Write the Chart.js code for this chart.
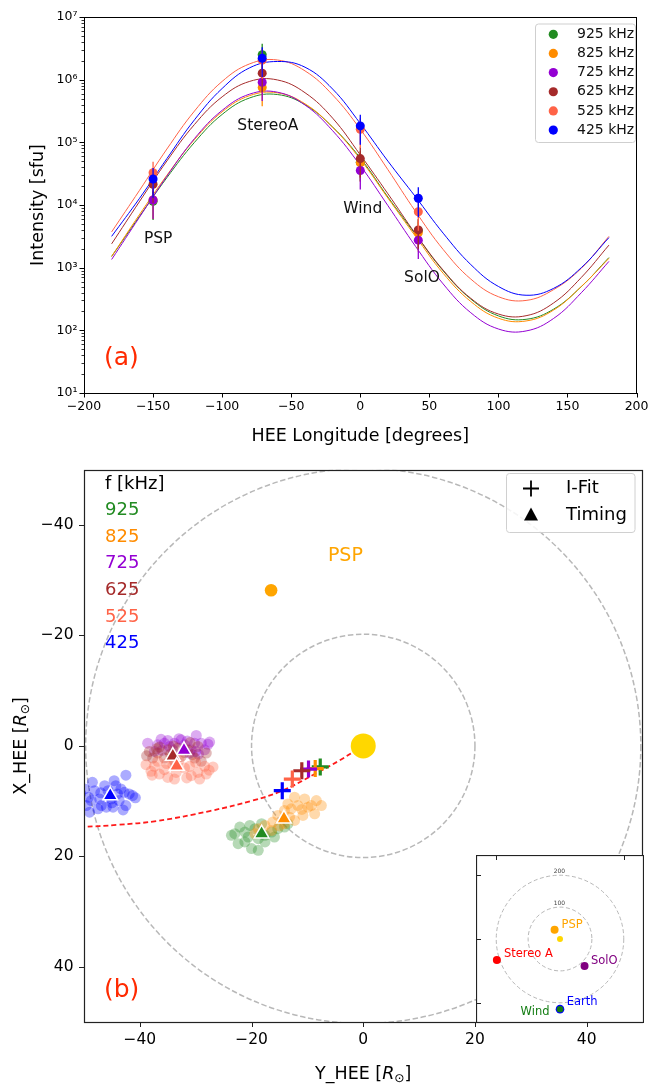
<!DOCTYPE html>
<html><head><meta charset="utf-8">
<script src="https://cdn.jsdelivr.net/npm/chart.js@4.4.0/dist/chart.umd.min.js"></script>
<style>
html,body{margin:0;padding:0;background:#fff;}
#wrap{position:relative;width:655px;height:1086px;overflow:hidden;}
canvas{position:absolute;display:block;}
#c1{left:0;top:0;width:655px;height:450px;}
#c2{left:0;top:450px;width:655px;height:636px;}
#c3{left:476px;top:855px;width:168px;height:168px;}
</style></head><body>
<div id="wrap">
<canvas id="c1" width="655" height="450"></canvas>
<canvas id="c2" width="655" height="636"></canvas>
<canvas id="c3" width="168" height="168"></canvas>
</div>
<script>
// ---------------- DATA: panel (a) ----------------
const freqLabels = ['925 kHz','825 kHz','725 kHz','625 kHz','525 kHz','425 kHz'];
const freqShort = ['925','825','725','625','525','425'];
const colors = ['#228B22','#FF8C00','#9400D3','#A52A2A','#FF6347','#0000FF'];
const spacecraftLon = [-150, -71, 0, 42];
const spacecraftNames = ['PSP','StereoA','Wind','SolO'];
const labelLon = [-146.3, -66.9, 1.8, 44.7];
const labelInt = [2.87e3, 1.83e5, 8.7e3, 689];
const int925 = [1.15e4, 2.5e6, 4.8e4, 3.9e3];
const int825 = [1.2e4, 7.5e5, 4.7e4, 3.6e3];
const int725 = [1.2e4, 9.1e5, 3.55e4, 2.75e3];
const int625 = [2.14e4, 1.27e6, 5.5e4, 4.0e3];
const int525 = [3.28e4, 2.05e6, 1.62e5, 7.8e3];
const int425 = [2.6e4, 2.2e6, 1.83e5, 1.28e4];
const errFrac = 0.5;
const fitLon = [-180,-160,-140,-120,-100,-80,-60,-40,-20,0,20,40,60,80,100,120,140,160,180];
const fit925 = [1.51e3,6.5e3,2.73e4,1.0e5,2.79e5,5.12e5,5.79e5,3.99e5,1.75e5,5.62e4,1.34e4,3.39e3,891,316,170,150,218,498,1.45e3];
const fit825 = [1.51e3,6.95e3,2.98e4,1.11e5,3.07e5,5.57e5,6.17e5,4.12e5,1.74e5,5.37e4,1.29e4,3.16e3,813,288,156,141,211,500,1.41e3];
const fit725 = [1.35e3,6.31e3,2.88e4,1.15e5,3.24e5,5.89e5,6.31e5,3.94e5,1.53e5,4.27e4,9.77e3,2.19e3,550,191,105,97.7,155,398,1.26e3];
const fit625 = [2.4e3,1.12e4,5.04e4,1.93e5,5.32e5,9.4e5,9.9e5,6.19e5,2.43e5,6.31e4,1.51e4,3.47e3,912,324,182,171,274,698,2.29e3];
const fit525 = [3.72e3,1.69e4,7.82e4,3.16e5,9.38e5,1.79e6,2.06e6,1.38e6,5.7e5,1.62e5,3.66e4,7.89e3,1.95e3,658,344,300,447,977,3.16e3];
const fit425 = [3.16e3,1.26e4,5.5e4,2.29e5,7.24e5,1.55e6,1.95e6,1.58e6,7.08e5,2.0e5,5.01e4,1.35e4,3.55e3,1.12e3,501,363,468,1000,3.02e3];
const xTicksA = [-200,-150,-100,-50,0,50,100,150,200];
const yTicksA = [10,100,1e3,1e4,1e5,1e6,1e7];

// ---------------- DATA: panel (b) ----------------
const axisTicksB = [-40,-20,0,20,40];
const circleRadiiB = [20, 49.7];
const spiralY = [-1.0,-4.2,-8.5,-14.5,-19.8,-27.5,-37.0,-44.0,-50.5];
const spiralX = [0.6,2.6,5.0,8.1,9.9,11.8,13.6,14.3,14.7];
const cloud925 = [[-23.0,15.9],[-22.1,14.7],[-21.2,15.6],[-20.3,14.4],[-19.4,15.0],[-18.8,16.8],[-17.6,16.2],[-16.4,15.6],[-15.3,15.0],[-14.1,14.7],[-21.2,17.4],[-22.4,17.7],[-20.0,18.6],[-18.8,18.9],[-17.6,17.4],[-15.9,16.5],[-23.6,16.2],[-13.5,14.1],[-20.6,16.5],[-18.2,14.1]];
const cloud825 = [[-12.3,9.3],[-10.5,9.6],[-8.4,9.9],[-7.5,10.8],[-8.7,12.3],[-11.7,10.8],[-12.9,11.4],[-14.1,11.7],[-9.9,11.1],[-10.8,12.6],[-13.2,12.9],[-15.3,12.6],[-16.2,13.8],[-17.6,14.4],[-18.8,15.0],[-14.1,14.1],[-12.3,13.5],[-16.4,15.3],[-19.4,15.9],[-9.3,10.8],[-11.0,11.5],[-13.5,10.5],[-15.0,14.5]];
const cloud725 = [[-38.6,-0.5],[-36.8,-0.2],[-35.6,-0.5],[-33.8,-0.5],[-32.0,-0.2],[-29.9,-1.9],[-29.0,-0.5],[-27.5,-0.7],[-28.4,0.7],[-30.8,0.7],[-34.1,0.7],[-37.4,1.0],[-32.6,-1.1],[-30.2,-0.5],[-31.1,1.3],[-34.7,0.1],[-36.0,0.8],[-29.5,1.5],[-33.0,-1.3],[-35.0,-1.0],[-27.8,-0.3],[-31.5,-0.9],[-36.2,-1.2],[-30.0,1.0]];
const cloud625 = [[-38.3,1.0],[-36.8,1.3],[-35.0,0.7],[-33.2,0.4],[-31.4,0.7],[-29.6,0.1],[-28.1,1.3],[-30.2,2.2],[-32.6,1.9],[-35.6,2.2],[-37.7,2.2],[-33.8,2.8],[-29.0,2.8],[-36.5,0.2],[-31.0,-0.6],[-34.5,1.5],[-37.0,0.5],[-32.0,1.2],[-34.0,0.0],[-30.6,1.6],[-38.8,1.8]];
const cloud525 = [[-38.9,3.4],[-37.4,3.7],[-35.6,4.3],[-35.0,5.7],[-33.5,4.8],[-32.0,4.0],[-30.8,5.4],[-29.6,4.8],[-28.1,5.1],[-26.9,3.8],[-36.5,5.1],[-34.1,3.4],[-31.1,3.7],[-28.4,3.7],[-36.8,2.8],[-33.0,2.6],[-30.0,3.0],[-38.0,4.6],[-33.8,6.0],[-31.6,5.8],[-37.8,5.3],[-29.3,6.0],[-35.2,3.2],[-27.6,4.4]];
const cloud425 = [[-49.9,7.8],[-49.2,9.3],[-49.6,10.8],[-48.1,8.1],[-47.2,9.6],[-46.3,7.2],[-45.7,8.1],[-44.3,7.2],[-44.0,8.7],[-42.8,8.4],[-41.9,8.7],[-41.3,9.0],[-42.5,10.8],[-43.7,9.9],[-46.9,10.8],[-46.0,11.1],[-44.8,11.1],[-47.5,11.4],[-42.5,5.3],[-48.7,9.9],[-45.1,9.6],[-43.4,7.8],[-50.6,8.6],[-47.0,8.5],[-45.0,10.3],[-51.5,9.8],[-50.8,11.6],[-48.5,6.6],[-44.6,6.3],[-43.0,11.6],[-40.8,9.4],[-49.0,12.0]];
const timingY = [-18.2,-14.2,-32.1,-34.1,-33.4,-45.3];
const timingX = [15.9,13.2,0.8,1.85,3.65,9.0];
const ifitY = [-7.7,-8.6,-9.8,-11.0,-12.7,-14.5];
const ifitX = [3.8,4.1,4.2,4.5,6.0,8.1];
const sunPos = [0,0];
const pspPos = [-16.5,-28.2];
const pspLabelPos = [-3.2,-34.4];

// ---------------- DATA: inset ----------------
const insetCircleRadii = [100, 200];
const insetNames = ['PSP','Stereo A','SolO','Earth','Wind'];
const insetY = [-17,-198,77,0,0];
const insetX = [-29,66,85,220,220];
const insetColors = ['#FFA500','#FF0000','#800080','#0000FF','#137d13'];
const insetLabelY = [5,-176,97,21,-33];
const insetLabelX = [-45,48,68,199,229];
const insetLabelAlign = ['left','left','left','left','right'];

// ---------------- helpers ----------------
const FONT = '"DejaVu Sans", "Liberation Sans", sans-serif';
const SUP = {'0':'\u2070','1':'\u00b9','2':'\u00b2','3':'\u00b3','4':'\u2074','5':'\u2075','6':'\u2076','7':'\u2077','8':'\u2078','9':'\u2079'};
const sup = n => String(n).split('').map(c=>SUP[c]).join('');
const fmtMinus = v => v < 0 ? '\u2212' + Math.abs(v) : String(v);
function rgba(hex, a){const n=parseInt(hex.slice(1),16);return `rgba(${n>>16},${(n>>8)&255},${n&255},${a})`;}
function rrect(ctx,x,y,w,h,r){ctx.beginPath();ctx.moveTo(x+r,y);ctx.lineTo(x+w-r,y);ctx.quadraticCurveTo(x+w,y,x+w,y+r);ctx.lineTo(x+w,y+h-r);ctx.quadraticCurveTo(x+w,y+h,x+w-r,y+h);ctx.lineTo(x+r,y+h);ctx.quadraticCurveTo(x,y+h,x,y+h-r);ctx.lineTo(x,y+r);ctx.quadraticCurveTo(x,y,x+r,y);ctx.closePath();}
function drawRLabel(ctx, prefix, cx, cy, rotate){
  const fs = 17.5;
  const fN = fs+'px '+FONT, fI = 'italic '+fs+'px '+FONT, fS = (fs*0.7)+'px '+FONT;
  ctx.save(); ctx.translate(cx,cy); if(rotate) ctx.rotate(-Math.PI/2);
  const parts = [[prefix+' [',fN,0],['R',fI,0],['\u2299',fS,fs*0.28],[']',fN,0]];
  let w = 0; parts.forEach(p=>{ctx.font=p[1]; p.push(ctx.measureText(p[0]).width); w+=p[3];});
  let x = -w/2; ctx.textBaseline='middle'; ctx.textAlign='left'; ctx.fillStyle='#000';
  parts.forEach(p=>{ctx.font=p[1]; ctx.fillText(p[0], x, p[2]); x+=p[3];});
  ctx.restore();
}
const baseOpts = {responsive:false, animation:false, devicePixelRatio:1, events:[],
  plugins:{legend:{display:false}, tooltip:{enabled:false}}};

// ---------------- Chart (a) ----------------
const seriesInt = [int925,int825,int725,int625,int525,int425];
const seriesFit = [fit925,fit825,fit725,fit625,fit525,fit425];
const dsA = [];
seriesFit.forEach((f,i)=>dsA.push({type:'line', data:fitLon.map((x,k)=>({x, y:f[k]})), borderColor:colors[i], borderWidth:1, pointRadius:0, tension:0.4, fill:false}));
seriesInt.forEach((arr,i)=>{
  spacecraftLon.forEach((lon,k)=>{
    dsA.push({type:'line', data:[{x:lon,y:arr[k]*(1-errFrac)},{x:lon,y:arr[k]*(1+errFrac)}], borderColor:colors[i], borderWidth:1.3, pointRadius:0, fill:false});
  });
  dsA.push({type:'line', showLine:false, data:spacecraftLon.map((x,k)=>({x, y:arr[k]})), backgroundColor:colors[i], borderColor:colors[i], borderWidth:0, pointRadius:4.5});
});
dsA.forEach((d,i)=>d.order=-i);

const decoA = {id:'decoA', afterDraw(chart){
  const {ctx, chartArea:a, scales:{x,y}} = chart;
  ctx.save();
  ctx.strokeStyle='#000'; ctx.lineWidth=1;
  ctx.strokeRect(Math.round(a.left)+0.5, Math.round(a.top)+0.5, Math.round(a.right-a.left)-1, Math.round(a.bottom-a.top));
  ctx.beginPath();
  xTicksA.forEach(v=>{const p=Math.round(x.getPixelForValue(v))+0.5; ctx.moveTo(p,a.bottom); ctx.lineTo(p,a.bottom+4.5);});
  yTicksA.forEach(v=>{const p=Math.round(y.getPixelForValue(v))+0.5; ctx.moveTo(a.left-4.5,p); ctx.lineTo(a.left,p);});
  ctx.stroke();
  ctx.beginPath(); ctx.lineWidth=0.8;
  for(let e=1;e<7;e++){for(let m=2;m<10;m++){const p=Math.round(y.getPixelForValue(m*Math.pow(10,e)))+0.5; ctx.moveTo(a.left-2.5,p); ctx.lineTo(a.left,p);}}
  ctx.stroke();
  // spacecraft labels
  ctx.fillStyle='#111'; ctx.font='15.5px '+FONT; ctx.textAlign='center'; ctx.textBaseline='middle';
  spacecraftNames.forEach((n,i)=>ctx.fillText(n, x.getPixelForValue(labelLon[i]), y.getPixelForValue(labelInt[i])));
  // axis titles
  ctx.fillStyle='#000'; ctx.font='17.5px '+FONT;
  ctx.fillText('HEE Longitude [degrees]', (a.left+a.right)/2, 436);
  ctx.save(); ctx.translate(38.5,(a.top+a.bottom)/2); ctx.rotate(-Math.PI/2); ctx.fillText('Intensity [sfu]',0,0); ctx.restore();
  // (a)
  ctx.fillStyle='#ff2a00'; ctx.font='25px '+FONT; ctx.textAlign='left';
  ctx.fillText('(a)', 104, 358);
  // legend
  rrect(ctx,535.5,24,100,118.5,3); ctx.fillStyle='rgba(255,255,255,0.85)'; ctx.fill(); ctx.strokeStyle='#cfcfcf'; ctx.lineWidth=1; ctx.stroke();
  ctx.font='14px '+FONT; ctx.textBaseline='middle';
  freqLabels.forEach((t,i)=>{const yy=34.3+i*19.15; ctx.fillStyle=colors[i]; ctx.beginPath(); ctx.arc(553.3,yy,4.6,0,Math.PI*2); ctx.fill(); ctx.fillStyle='#111'; ctx.fillText(t,577,yy);});
  ctx.restore();
}};

new Chart(document.getElementById('c1'), {
  type:'line',
  data:{datasets:dsA},
  options:Object.assign({}, baseOpts, {
    layout:{padding:{left:0,top:17,right:12,bottom:0}},
    scales:{
      x:{type:'linear', min:-200, max:200,
        afterBuildTicks:s=>{s.ticks=xTicksA.map(v=>({value:v}));},
        afterFit:s=>{s.height=57;},
        ticks:{callback:v=>fmtMinus(v), font:{family:FONT,size:12.5}, color:'#000', padding:6.5, maxRotation:0, autoSkip:false},
        grid:{display:false, drawTicks:false}, border:{display:false}},
      y:{type:'logarithmic', min:10, max:1e7,
        afterBuildTicks:s=>{s.ticks=yTicksA.map(v=>({value:v}));},
        afterFit:s=>{s.width=84;},
        ticks:{callback:v=>'10'+sup(Math.round(Math.log10(v))), font:{family:FONT,size:12.5}, color:'#000', padding:6.5, autoSkip:false},
        grid:{display:false, drawTicks:false}, border:{display:false}}
    }
  }),
  plugins:[decoA]
});

// ---------------- Chart (b) ----------------
const clouds = [cloud925,cloud825,cloud725,cloud625,cloud525,cloud425];
const dsB = [];
dsB.push({type:'line', data:spiralY.map((yv,k)=>({x:yv, y:spiralX[k]})), borderColor:'#ff1a1a', borderWidth:1.8, borderDash:[5,3], pointRadius:0, tension:0.4, fill:false, clip:0});
clouds.forEach((c,i)=>dsB.push({type:'line', showLine:false, data:c.map(p=>({x:p[0],y:p[1]})), backgroundColor:rgba(colors[i],0.33), borderWidth:0, pointRadius:5.5, clip:0}));
timingY.forEach((yv,i)=>dsB.push({type:'line', showLine:false, data:[{x:yv,y:timingX[i]}], pointStyle:'triangle', pointRadius:8.5, backgroundColor:colors[i], borderColor:'#ffffff', borderWidth:1.5, clip:0}));
ifitY.forEach((yv,i)=>dsB.push({type:'line', showLine:false, data:[{x:yv,y:ifitX[i]}], pointStyle:'cross', pointRadius:8.5, borderColor:colors[i], borderWidth:3.2, clip:0}));
dsB.push({type:'line', showLine:false, data:[{x:sunPos[0],y:sunPos[1]}], backgroundColor:'#FFD700', borderWidth:0, pointRadius:12.5, clip:0});
dsB.push({type:'line', showLine:false, data:[{x:pspPos[0],y:pspPos[1]}], backgroundColor:'#FFA500', borderWidth:0, pointRadius:6.3, clip:0});
dsB.forEach((d,i)=>d.order=-i);

const decoB = {id:'decoB',
 beforeDatasetsDraw(chart){
  const {ctx, chartArea:a, scales:{x,y}} = chart;
  ctx.save(); ctx.beginPath(); ctx.rect(a.left,a.top,a.right-a.left,a.bottom-a.top); ctx.clip();
  const cx=x.getPixelForValue(0), cy=y.getPixelForValue(0);
  ctx.strokeStyle='#b8b8b8'; ctx.lineWidth=1.5; ctx.setLineDash([5.5,2.6]);
  circleRadiiB.forEach(r=>{const rp=x.getPixelForValue(r)-cx; ctx.beginPath(); ctx.arc(cx,cy,rp,0,Math.PI*2); ctx.stroke();});
  ctx.restore();
 },
 afterDraw(chart){
  const {ctx, chartArea:a, scales:{x,y}} = chart;
  ctx.save();
  ctx.strokeStyle='#222'; ctx.lineWidth=1.2;
  ctx.strokeRect(Math.round(a.left)+0.5, Math.round(a.top)+0.5, Math.round(a.right-a.left)-1, Math.round(a.bottom-a.top));
  ctx.beginPath(); ctx.lineWidth=1;
  axisTicksB.forEach(v=>{const p=Math.round(x.getPixelForValue(v))+0.5; ctx.moveTo(p,a.bottom); ctx.lineTo(p,a.bottom+5);});
  axisTicksB.forEach(v=>{const p=Math.round(y.getPixelForValue(v))+0.5; ctx.moveTo(a.left-5,p); ctx.lineTo(a.left,p);});
  ctx.stroke();
  drawRLabel(ctx,'Y_HEE',(a.left+a.right)/2,624,false);
  drawRLabel(ctx,'X_HEE',21,(a.top+a.bottom)/2,true);
  // frequency legend text
  ctx.textAlign='left'; ctx.textBaseline='middle'; ctx.font='18px '+FONT;
  ctx.fillStyle='#000'; ctx.fillText('f [kHz]',105,34.5);
  freqShort.forEach((t,i)=>{ctx.fillStyle=colors[i]; ctx.fillText(t,105,60.5+i*26.6);});
  // PSP label
  ctx.fillStyle='#FFA500'; ctx.font='19px '+FONT; ctx.textAlign='center';
  ctx.fillText('PSP', x.getPixelForValue(pspLabelPos[0]), y.getPixelForValue(pspLabelPos[1]));
  // (b)
  ctx.fillStyle='#ff2a00'; ctx.font='25px '+FONT; ctx.textAlign='left';
  ctx.fillText('(b)',104,540);
  // marker legend
  rrect(ctx,506.5,23.5,128.5,59,3); ctx.fillStyle='rgba(255,255,255,0.85)'; ctx.fill(); ctx.strokeStyle='#d0d0d0'; ctx.lineWidth=1; ctx.stroke();
  ctx.strokeStyle='#000'; ctx.lineWidth=1.8; ctx.beginPath(); ctx.moveTo(523,38.5); ctx.lineTo(539,38.5); ctx.moveTo(531,30.5); ctx.lineTo(531,46.5); ctx.stroke();
  ctx.fillStyle='#000'; ctx.beginPath(); ctx.moveTo(531,57.5); ctx.lineTo(538,70.5); ctx.lineTo(524,70.5); ctx.closePath(); ctx.fill();
  ctx.font='18px '+FONT; ctx.textAlign='left';
  ctx.fillText('I-Fit',566,38.5); ctx.fillText('Timing',566,65);
  ctx.restore();
 }};

new Chart(document.getElementById('c2'), {
  type:'line',
  data:{datasets:dsB},
  options:Object.assign({}, baseOpts, {
    layout:{padding:{left:0,top:14,right:11,bottom:0}},
    scales:{
      x:{type:'linear', min:-50, max:50,
        afterBuildTicks:s=>{s.ticks=axisTicksB.map(v=>({value:v}));},
        afterFit:s=>{s.height=64;},
        ticks:{callback:v=>fmtMinus(v), font:{family:FONT,size:15.5}, color:'#000', padding:8.5, maxRotation:0, autoSkip:false},
        grid:{display:false, drawTicks:false}, border:{display:false}},
      y:{type:'linear', min:-50, max:50, reverse:true,
        afterBuildTicks:s=>{s.ticks=axisTicksB.map(v=>({value:v}));},
        afterFit:s=>{s.width=84;},
        ticks:{callback:v=>fmtMinus(v), font:{family:FONT,size:15.5}, color:'#000', padding:10.5, autoSkip:false},
        grid:{display:false, drawTicks:false}, border:{display:false}}
    }
  }),
  plugins:[decoB]
});

// ---------------- Inset ----------------
const dsC = [];
dsC.push({type:'line', showLine:false, data:[{x:0,y:0}], backgroundColor:'#FFD700', borderWidth:0, pointRadius:3});
insetNames.forEach((n,i)=>{
  if(n==='Earth') dsC.push({type:'line', showLine:false, data:[{x:insetY[i],y:insetX[i]}], backgroundColor:insetColors[i], borderWidth:0, pointRadius:4.3});
  else if(n==='Wind') dsC.push({type:'line', showLine:false, data:[{x:insetY[i],y:insetX[i]}], backgroundColor:insetColors[i], borderWidth:0, pointRadius:3.2});
  else dsC.push({type:'line', showLine:false, data:[{x:insetY[i],y:insetX[i]}], backgroundColor:insetColors[i], borderWidth:0, pointRadius:4});
});
dsC.forEach((d,i)=>d.order=-i);
const decoC = {id:'decoC',
 beforeDraw(chart){const ctx=chart.ctx; ctx.save(); ctx.fillStyle='#fff'; ctx.fillRect(0,0,chart.width,chart.height); ctx.restore();},
 beforeDatasetsDraw(chart){
  const {ctx, scales:{x,y}} = chart;
  const cx=x.getPixelForValue(0), cy=y.getPixelForValue(0);
  ctx.save(); ctx.strokeStyle='#b8b8b8'; ctx.lineWidth=1; ctx.setLineDash([4,2.5]);
  insetCircleRadii.forEach(r=>{const rp=x.getPixelForValue(r)-cx; ctx.beginPath(); ctx.arc(cx,cy,rp,0,Math.PI*2); ctx.stroke();});
  ctx.setLineDash([]);
  ctx.fillStyle='#444'; ctx.font='6px '+FONT; ctx.textAlign='center'; ctx.textBaseline='middle';
  insetCircleRadii.forEach(r=>{ctx.fillText(String(r), x.getPixelForValue(-2), y.getPixelForValue(-r-13));});
  ctx.restore();
 },
 afterDraw(chart){
  const {ctx, scales:{x,y}} = chart;
  ctx.save();
  ctx.font='11.5px '+FONT; ctx.textBaseline='middle';
  insetNames.forEach((n,i)=>{ctx.fillStyle=insetColors[i]; ctx.textAlign=insetLabelAlign[i]; ctx.fillText(n, x.getPixelForValue(insetLabelY[i]), y.getPixelForValue(insetLabelX[i]));});
  ctx.strokeStyle='#222'; ctx.lineWidth=1.2; ctx.strokeRect(0.5,0.5,chart.width-1,chart.height-1);
  ctx.beginPath(); ctx.lineWidth=1;
  [-200,0,200].forEach(v=>{const p=Math.round(y.getPixelForValue(v))+0.5; ctx.moveTo(0,p); ctx.lineTo(5,p);});
  [-200,200].forEach(v=>{const p=Math.round(x.getPixelForValue(v))+0.5; ctx.moveTo(p,0); ctx.lineTo(p,5);});
  ctx.stroke();
  ctx.restore();
 }};
new Chart(document.getElementById('c3'), {
  type:'line',
  data:{datasets:dsC},
  options:Object.assign({}, baseOpts, {
    layout:{padding:0},
    scales:{
      x:{type:'linear', min:-250, max:250, display:false},
      y:{type:'linear', min:-250, max:250, reverse:true, display:false}
    }
  }),
  plugins:[decoC]
});
</script>
</body></html>
